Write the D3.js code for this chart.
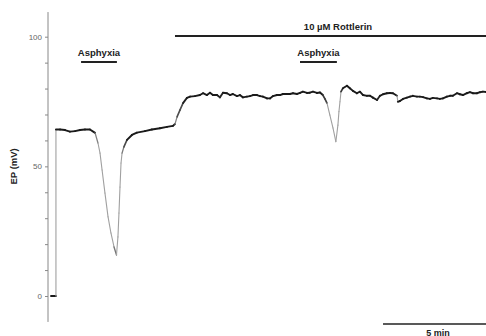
<!DOCTYPE html>
<html>
<head>
<meta charset="utf-8">
<script src="https://cdn.jsdelivr.net/npm/d3@7"></script>
<style>
  body { margin: 0; background: #fff; }
  svg { display: block; }
</style>
</head>
<body>
<div id="chart"></div>
<script>
// time in minutes, EP in mV
const timeMin = [
  0, 0.24, 0.24, 0.44, 0.68, 0.92, 1.17, 1.41, 1.65, 1.89, 2.14, 2.28, 2.38, 2.48, 2.62, 2.77, 2.91, 3.06, 3.18,
  3.25, 3.30, 3.35, 3.40, 3.45, 3.54, 3.69, 3.93, 4.17, 4.56, 4.90, 5.29, 5.63, 5.92, 6.02, 6.12, 6.26, 6.41,
  6.60, 6.75, 6.99, 7.23, 7.38, 7.57, 7.72, 7.86, 8.06, 8.20, 8.35, 8.54, 8.69, 8.83, 9.03, 9.17, 9.32, 9.51,
  9.66, 9.81, 10.00, 10.15, 10.29, 10.49, 10.63, 10.78, 10.97, 11.12, 11.26, 11.46, 11.60, 11.75, 11.94, 12.09,
  12.23, 12.43, 12.57, 12.72, 12.91, 13.06, 13.20, 13.30, 13.40, 13.54, 13.69, 13.83, 13.93, 13.98, 14.03, 14.08,
  14.17, 14.37, 14.51, 14.66, 14.85, 15.00, 15.15, 15.34, 15.49, 15.63, 15.83, 15.97, 16.12, 16.31, 16.46, 16.60,
  16.80, 16.84, 16.94, 17.09, 17.28, 17.43, 17.57, 17.77, 17.91, 18.06, 18.25, 18.40, 18.54, 18.74, 18.88, 19.03,
  19.22, 19.37, 19.51, 19.71, 19.85, 20.00, 20.19, 20.34, 20.49, 20.68, 20.83, 20.97, 21.12
]
const epMv = [
  0, 0, 64.2, 64.2, 64.0, 63.4, 63.6, 64.0, 64.2, 64.2, 62.9, 59.0, 55.1, 48.6, 39.7, 30.5, 24.3, 18.9, 15.8,
  22.8, 32.0, 42.0, 51.3, 55.1, 57.5, 60.2, 62.1, 63.0, 63.6, 64.2, 64.7, 65.2, 65.6, 66.3, 69.1, 71.7, 74.4,
  76.4, 76.9, 77.1, 77.5, 78.2, 77.5, 78.4, 77.5, 77.5, 76.6, 78.4, 78.2, 77.5, 77.9, 77.1, 77.5, 76.6, 76.9,
  77.1, 77.5, 77.5, 77.1, 76.9, 76.2, 76.2, 77.1, 77.5, 77.5, 77.9, 77.9, 77.9, 78.2, 77.9, 78.3,
  78.8, 78.3, 78.4, 78.8, 78.3, 78.5, 77.5, 76.0, 74.4, 69.8, 64.8, 59.5, 65.9, 71.1, 74.9, 78.8,
  80.1, 81.1, 80.1, 79.1, 78.2, 78.8, 77.5, 77.2, 77.2, 76.5, 75.6, 77.2, 77.8, 78.2, 78.3, 78.2,
  77.2, 74.9, 75.2, 76.0, 76.5, 76.9, 77.2, 76.9, 76.9, 76.7, 76.2, 76.0, 76.4, 76.2, 76.0, 76.2,
  76.9, 77.2, 77.2, 78.2, 77.8, 77.5, 78.2, 78.6, 78.2, 78.2, 78.6, 78.8, 78.7
]

const yTicks = [0, 10, 20, 30, 40, 50, 60, 70, 80, 90, 100]
const yTickLabels = { 0: '0', 50: '50', 100: '100' }

// treatment bars: [start, end] in minutes
const asphyxiaPeriods = [[1.46, 3.20], [12.09, 13.88]]
const rottlerinPeriod = [6.02, 21.3]
const scaleBarMin = 5

const width = 486
const height = 336
const fontFamily = '"Liberation Sans", Arial, sans-serif'

const x = d3.scaleLinear().domain([0, 21.12]).range([51, 486])
const y = d3.scaleLinear().domain([0, 100]).range([296, 36.7])

const svg = d3.select('#chart')
  .append('svg')
  .attr('width', width)
  .attr('height', height)
  .style('font-family', fontFamily)

// y axis
const axis = svg.append('g')
  .attr('transform', 'translate(48,0)')
  .call(d3.axisLeft(y).tickValues(yTicks).tickSize(3).tickFormat((d) => yTickLabels[d] || ''))

axis.select('.domain').remove()
axis.selectAll('.tick line').attr('stroke', '#888')
axis.selectAll('.tick text')
  .attr('fill', '#666')
  .attr('font-size', 8)
  .attr('font-family', fontFamily)
  .attr('x', -6)

axis.append('line')
  .attr('x1', 0)
  .attr('x2', 0)
  .attr('y1', y(-10))
  .attr('y2', y(109.5))
  .attr('stroke', '#888')
  .attr('stroke-width', 1)

svg.append('text')
  .attr('transform', `translate(16.5,${y(50)}) rotate(-90)`)
  .attr('text-anchor', 'middle')
  .attr('font-size', 9.5)
  .attr('font-weight', 'bold')
  .attr('fill', '#222')
  .text('EP (mV)')

// trace, fast parts drawn lighter like a pen recorder
const pts = timeMin.map((t, i) => [x(t), y(epMv[i])])
const shade = d3.interpolateRgb('#1a1a1a', '#a0a0a0')
for (let i = 0; i < pts.length - 1; i++) {
  const [x0, y0] = pts[i]
  const [x1, y1] = pts[i + 1]
  const slope = Math.abs(y1 - y0) / Math.max(Math.abs(x1 - x0), 0.01)
  const k = Math.max(0, Math.min(1, (slope - 1.2) / 3))
  svg.append('line')
    .attr('x1', x0)
    .attr('y1', y0)
    .attr('x2', x1)
    .attr('y2', y1)
    .attr('stroke', shade(k))
    .attr('stroke-width', 1.9 - 0.8 * k)
    .attr('stroke-linecap', 'round')
}

// rottlerin bar
svg.append('line')
  .attr('x1', x(rottlerinPeriod[0]))
  .attr('x2', x(rottlerinPeriod[1]))
  .attr('y1', 36)
  .attr('y2', 36)
  .attr('stroke', '#222')
  .attr('stroke-width', 2)

svg.append('text')
  .attr('x', 338)
  .attr('y', 30)
  .attr('text-anchor', 'middle')
  .attr('font-size', 9.5)
  .attr('font-weight', 'bold')
  .attr('fill', '#222')
  .text('10 \u00b5M Rottlerin')

// asphyxia bars
asphyxiaPeriods.forEach(([a, b]) => {
  svg.append('line')
    .attr('x1', x(a))
    .attr('x2', x(b))
    .attr('y1', 62)
    .attr('y2', 62)
    .attr('stroke', '#222')
    .attr('stroke-width', 2)
  svg.append('text')
    .attr('x', (x(a) + x(b)) / 2)
    .attr('y', 56)
    .attr('text-anchor', 'middle')
    .attr('font-size', 9.5)
    .attr('font-weight', 'bold')
    .attr('fill', '#222')
    .text('Asphyxia')
})

// time scale bar
const sbEnd = x.domain()[1]
svg.append('line')
  .attr('x1', x(sbEnd - scaleBarMin))
  .attr('x2', x(sbEnd))
  .attr('y1', 324)
  .attr('y2', 324)
  .attr('stroke', '#222')
  .attr('stroke-width', 1.5)

svg.append('text')
  .attr('x', 438)
  .attr('y', 335.5)
  .attr('text-anchor', 'middle')
  .attr('font-size', 9)
  .attr('font-weight', 'bold')
  .attr('fill', '#222')
  .text('5 min')
</script>
</body>
</html>
